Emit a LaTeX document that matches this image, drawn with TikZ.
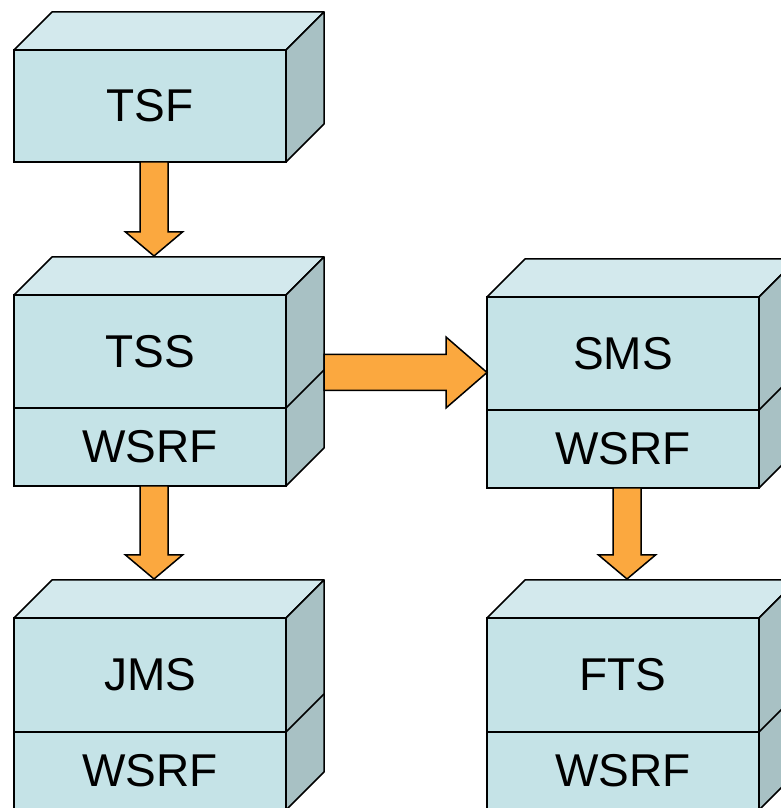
\documentclass[tikz,border=0pt]{standalone}
\usepackage{fontspec}
\setmainfont{Liberation Sans}
\usepackage{tikz}
\usetikzlibrary{calc,positioning}

\definecolor{frontc}{RGB}{197,227,231}
\definecolor{topc}{RGB}{211,233,237}
\definecolor{sidec}{RGB}{168,193,196}
\definecolor{flowc}{RGB}{251,168,63}

\tikzset{
  layer/.style={draw, fill=frontc, line width=1.5pt, outer sep=0pt, inner sep=0pt,
    minimum width=272pt, font=\fontsize{46}{55}\selectfont},
  topface/.style={draw, fill=topc, line width=1.5pt, line join=round},
  sideface/.style={draw, fill=sidec, line width=1.5pt, line join=round},
  flow/.style={draw, fill=flowc, line width=1.5pt, line join=miter}
}

\newcommand{\boxfaces}[2]{%
  \draw[topface] (#1.north west) -- ++(38,38) -- ++(272,0) -- (#1.north east) -- cycle;
  \draw[sideface] (#1.north east) -- ++(38,38) -- ($(#2.south east)+(38,38)$) -- (#2.south east) -- cycle;
}
\newcommand{\downflow}[2]{%
  \draw[flow] ($(#1)+(-10,0)$) -- ($(#2)+(-10,63)$) -- ($(#2)+(-24.5,63)$) -- ($(#2)+(4,39)$)
    -- ($(#2)+(32.5,63)$) -- ($(#2)+(18,63)$) -- ($(#1)+(18,0)$) -- cycle;
}

\begin{document}
\begin{tikzpicture}[x=1pt,y=1pt]
  \clip (0,0) rectangle (781,808);

  \node[layer, minimum height=112pt] (tsf) at (150,702) {TSF};
  \node[layer, minimum height=113pt] (tss) at (150,456.5) {TSS};
  \node[layer, minimum height=78pt, below=0pt of tss] (tssw) {WSRF};
  \node[layer, minimum height=113pt] (sms) at (623,454.5) {SMS};
  \node[layer, minimum height=78pt, below=0pt of sms] (smsw) {WSRF};
  \node[layer, minimum height=114pt] (jms) at (150,133) {JMS};
  \node[layer, minimum height=78pt, below=0pt of jms] (jmsw) {WSRF};
  \node[layer, minimum height=114pt] (fts) at (623,133) {FTS};
  \node[layer, minimum height=78pt, below=0pt of fts] (ftsw) {WSRF};

  \boxfaces{tsf}{tsf}
  \boxfaces{tss}{tssw}
  \boxfaces{sms}{smsw}
  \boxfaces{jms}{jmsw}
  \boxfaces{fts}{ftsw}
  \draw[line width=1.5pt] (tss.south east) -- ++(38,38);
  \draw[line width=1.5pt] (sms.south east) -- ++(38,38);
  \draw[line width=1.5pt] (jms.south east) -- ++(38,38);
  \draw[line width=1.5pt] (fts.south east) -- ++(38,38);

  \downflow{tsf.south}{tss.north}
  \downflow{tssw.south}{jms.north}
  \downflow{smsw.south}{fts.north}

  \coordinate (start) at ($(tss.east)+(38,-21)$);
  \coordinate (tip) at (sms.west |- start);
  \draw[flow] ($(start)+(0,18)$) -- ($(tip)+(-41,18)$) -- ($(tip)+(-41,35.5)$) -- (tip)
    -- ($(tip)+(-41,-35.5)$) -- ($(tip)+(-41,-18)$) -- ($(start)+(0,-18)$) -- cycle;
\end{tikzpicture}
\end{document}
